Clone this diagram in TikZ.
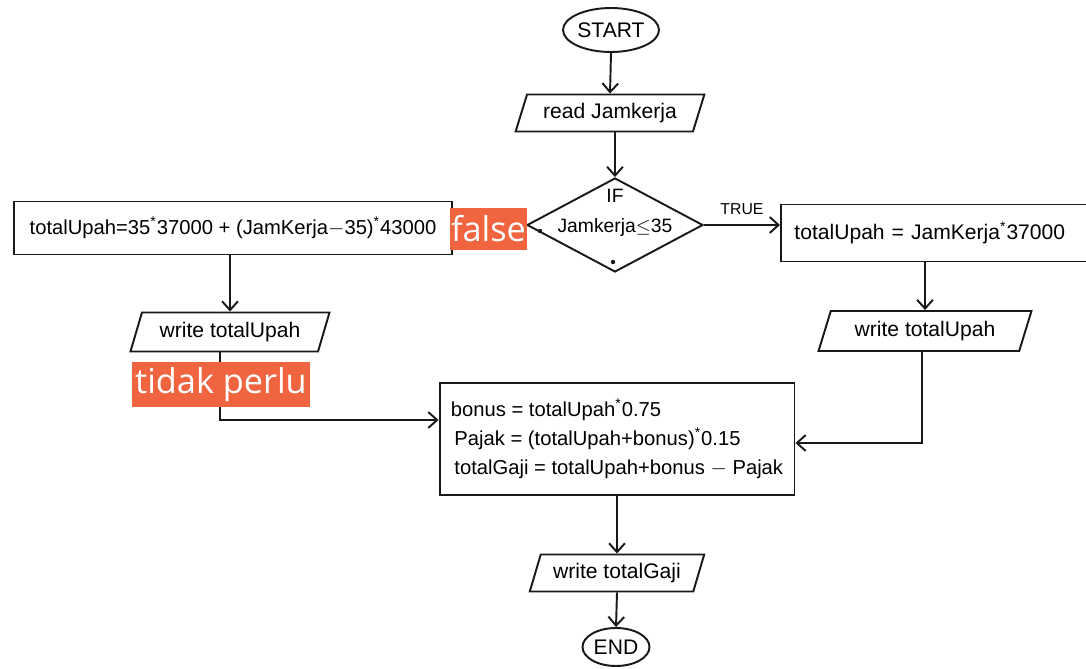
\documentclass[tikz,border=0pt]{standalone}
\usepackage{fontspec}
\setmainfont{Liberation Sans}
\newfontfamily\tagfont{Open Sans}
\usetikzlibrary{shapes.geometric,arrows.meta}
\definecolor{tagorange}{RGB}{241,100,64}
\definecolor{ink}{RGB}{25,25,25}
\tikzset{
  flow/.style={draw=ink,line width=1.1pt},
  terminal/.style={flow,ellipse,inner sep=0pt,font=\fontsize{12}{14}\selectfont},
  iobox/.style={flow,trapezium,trapezium left angle=65,trapezium right angle=115,
    trapezium stretches=true,inner sep=0pt,font=\fontsize{12}{14}\selectfont},
  procbox/.style={flow,rectangle,inner sep=0pt,font=\fontsize{12}{14}\selectfont},
  decision/.style={flow,diamond,inner sep=0pt},
  conn/.style={draw=ink,line width=1.1pt,-{Straight Barb[length=5pt,width=9pt]}},
  plain/.style={draw=ink,line width=1.1pt},
  tag/.style={fill=tagorange,text=white,inner sep=0pt,font=\tagfont\fontsize{19.5}{21}\selectfont},
  speck/.style={circle,fill=ink,inner sep=0pt,minimum size=2.5pt},
}
\begin{document}
\begin{tikzpicture}[x=0.02cm,y=-0.02cm]
\useasboundingbox (0,0) rectangle (1086,669);
\clip (0,0) rectangle (1086,669);

% terminals, inputs and outputs
\node[terminal,minimum width=1.92cm,minimum height=0.88cm] (start) at (611,30) {START};
\node[iobox,minimum width=3.8cm,minimum height=0.74cm] (read) at (610,113) {read Jamkerja};
\node[decision,minimum width=3.52cm,minimum height=1.88cm] (dec) at (615,225) {};
\node[font=\fontsize{11}{17}\selectfont,align=center] (dectext) at (615,213) {IF\\Jamkerja$\leq$35};
\node[speck] (dotl) at (540,231) {};
\node[speck] (dotb) at (613,262) {};

% both branches
\node[procbox,minimum width=8.76cm,minimum height=1.06cm,font=\fontsize{11.5}{13}\selectfont] (lbox) at (233,228)
  {totalUpah=35\textsuperscript{*}37000 + (JamKerja$-$35)\textsuperscript{*}43000};
\node[procbox,minimum width=6.4cm,minimum height=1.14cm,anchor=west,text width=6cm,align=left] (rbox) at (780,233)
  {\hspace{2pt}totalUpah = JamKerja\textsuperscript{*}37000};
\node[iobox,minimum width=4cm,minimum height=0.78cm] (lwrite) at (230,332) {write totalUpah};
\node[iobox,minimum width=4.28cm,minimum height=0.8cm] (rwrite) at (925,331) {write totalUpah};

% totals
\node[procbox,minimum width=7.1cm,minimum height=2.24cm,align=left,font=\fontsize{11.5}{13.5}\selectfont] (calc) at (617,439)
  {bonus = totalUpah\textsuperscript{*}0.75\\[3pt]
   \hspace{2pt}Pajak = (totalUpah+bonus)\textsuperscript{*}0.15\\[3pt]
   \hspace{2pt}totalGaji = totalUpah+bonus $-$ Pajak};
\node[iobox,minimum width=3.5cm,minimum height=0.74cm] (wgaji) at (617,573) {write totalGaji};
\node[terminal,minimum width=1.34cm,minimum height=0.76cm] (end) at (616,647) {END};

% connectors
\draw[conn] (start.south) -- (read.north);
\draw[conn] (read.south -| dec.north) -- (dec.north);
\draw[conn] (dec.east) -- (dec.east -| rbox.west)
  node[midway,above=2pt,font=\fontsize{9}{10}\selectfont] (truelbl) {TRUE};
\draw[plain] (dec.west) -- (dec.west -| lbox.east);
\draw[conn] (lbox.south -| lwrite.north) -- (lwrite.north);
\draw[conn] (rbox.south -| rwrite.north) -- (rwrite.north);
\coordinate (lbend) at (220,420);
\coordinate (rbend) at (922,443);
\draw[conn] (lwrite.south -| lbend) -- (lbend) -- (lbend -| calc.west);
\draw[conn] (rwrite.south -| rbend) -- (rbend) -- (rbend -| calc.east);
\draw[conn] (calc.south) -- (wgaji.north);
\draw[conn] (wgaji.south) -- (end.north);

% overlaid tags
\node[tag,minimum width=1.54cm,minimum height=0.84cm] (falsetag) at (488.5,229) {false};
\node[tag,minimum width=3.56cm,minimum height=0.9cm] (perlutag) at (221,384.5) {tidak perlu};
\end{tikzpicture}
\end{document}
